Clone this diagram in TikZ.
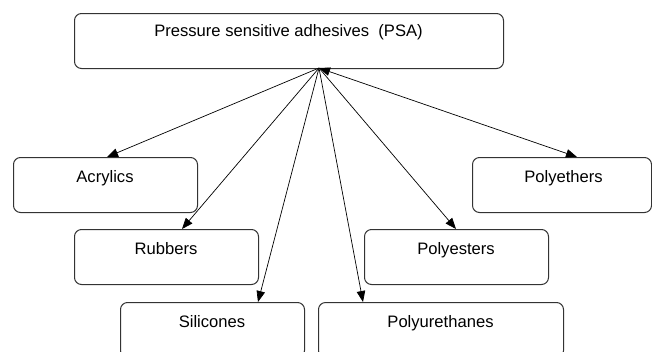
\documentclass[tikz,border=0pt]{standalone}
\usepackage{fontspec}
\setmainfont{Liberation Sans}
\usetikzlibrary{arrows.meta,calc}
\begin{document}
\begin{tikzpicture}[x=1pt,y=-1pt,
  box/.style={draw=black!80,line width=1pt,rounded corners=7pt,minimum height=55pt,inner sep=0pt,anchor=north west},
  lbl/.style={anchor=base,inner sep=0pt,font=\fontsize{16.6}{19}\selectfont},
  conn/.style={line width=0.7pt,-{Triangle[length=11pt,width=8.5pt]}},
  biconn/.style={line width=0.7pt,{Triangle[length=11pt,width=8.5pt]}-{Triangle[length=11pt,width=8.5pt]}}]
\useasboundingbox (0,0) rectangle (652,351);
\clip (0,0) rectangle (652,351);
% boxes
\node[box,minimum width=429pt] (psa) at (74,13) {};
\node[box,minimum width=184pt] (acr) at (13,157) {};
\node[box,minimum width=184pt] (rub) at (74,229) {};
\node[box,minimum width=184pt] (sil) at (120,302) {};
\node[box,minimum width=245pt] (pur) at (318,302) {};
\node[box,minimum width=184pt] (pes) at (364,229) {};
\node[box,minimum width=179pt] (peth) at (472,157) {};
% labels
\node[lbl] (psa-t) at (288.5,36.5) {Pressure sensitive adhesives\ \ (PSA)};
\node[lbl] (acr-t) at (105,182) {Acrylics};
\node[lbl] (rub-t) at (166,254) {Rubbers};
\node[lbl] (sil-t) at (212,327) {Silicones};
\node[lbl] (pur-t) at (440.5,327) {Polyurethanes};
\node[lbl] (pes-t) at (456,254) {Polyesters};
\node[lbl] (peth-t) at (563.5,182) {Polyethers};
% connectors
\coordinate (src) at (319,68);
\draw[conn] (src) -- ($(acr.north west)+(94,0)$);
\draw[conn] (src) -- ($(rub.north west)+(108,0)$);
\draw[conn] (src) -- ($(sil.north west)+(138,0)$);
\draw[conn] (src) -- ($(pur.north west)+(45,0)$);
\draw[conn] (src) -- ($(pes.north west)+(92,0)$);
\draw[biconn] (src) -- ($(peth.north west)+(105,0)$);
\end{tikzpicture}
\end{document}
